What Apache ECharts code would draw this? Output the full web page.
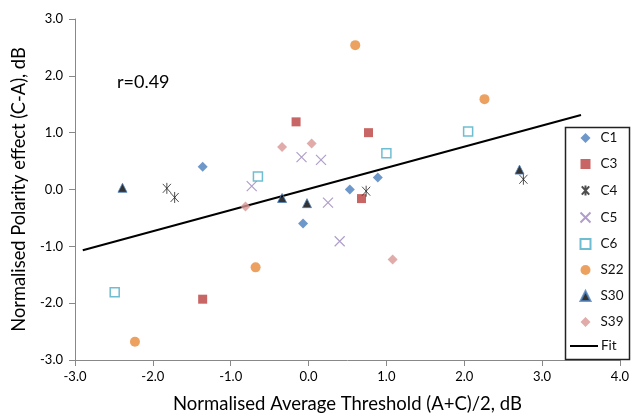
<!DOCTYPE html>
<html>
<head>
<meta charset="utf-8">
<script src="https://cdn.jsdelivr.net/npm/echarts@6/dist/echarts.min.js"></script>
<style>
html,body{margin:0;padding:0;background:#fff;}
#chart{width:632px;height:419px;}
</style>
</head>
<body>
<div id="chart"></div>
<script>
// Data: [x, y]
var C1  = [[-1.36, 0.40], [-0.07, -0.60], [0.53, 0.00], [0.89, 0.21]];
var C3  = [[-1.36, -1.93], [-0.16, 1.19], [0.68, -0.16], [0.77, 1.00]];
var C4  = [[-1.82, 0.02], [-1.72, -0.14], [0.74, -0.03], [2.76, 0.18]];
var C5  = [[-0.73, 0.06], [-0.09, 0.57], [0.16, 0.52], [0.25, -0.23], [0.40, -0.91]];
var C6  = [[-2.49, -1.81], [-0.65, 0.23], [1.00, 0.64], [2.05, 1.02]];
var S22 = [[-2.23, -2.68], [-0.68, -1.37], [0.60, 2.54], [2.26, 1.59]];
var S30 = [[-2.39, 0.03], [-0.34, -0.15], [-0.02, -0.24], [2.71, 0.35]];
var S39 = [[-0.81, -0.30], [-0.34, 0.75], [0.04, 0.81], [1.08, -1.23]];
var FIT = [[-2.90, -1.07], [3.50, 1.31]];
var xTicks = [-3, 4, 1];
var yTicks = [-3, 3, 1];
var xTitle = 'Normalised Average Threshold (A+C)/2, dB';
var yTitle = 'Normalised Polarity effect (C-A), dB';
var rText = 'r=0.49';
var markerNames = ['C1', 'C3', 'C4', 'C5', 'C6', 'S22', 'S30', 'S39'];
var fitName = 'Fit';

var FONT = 'Lato, "Open Sans", sans-serif';
var chart = echarts.init(document.getElementById('chart'), null, {renderer: 'canvas'});

var asterisk = 'path://M-1,-1.1L1,1.1M-1,1.1L1,-1.1M0,-1.35L0,1.35';
var cross = 'path://M0,0L10,10M0,10L10,0';

function sc(name, data, symbol, size, style) {
  return {
    name: name, type: 'scatter', data: data, symbol: symbol, symbolSize: size,
    symbolKeepAspect: true,
    itemStyle: style, emphasis: {disabled: true}, z: 3
  };
}

var legendText = {fontSize: 13.5, color: '#111', fontFamily: FONT, lineHeight: 14};

var option = {
  animation: false,
  backgroundColor: '#fff',
  textStyle: {fontFamily: FONT},
  grid: {left: 75, right: 9, top: 19, bottom: 55, containLabel: false},
  xAxis: {
    type: 'value', min: xTicks[0], max: xTicks[1], interval: xTicks[2],
    name: xTitle, nameLocation: 'middle', nameGap: 35,
    nameTextStyle: {fontSize: 18.5, color: '#000', fontFamily: FONT},
    axisLine: {show: true, onZero: false, lineStyle: {color: '#888', width: 1}},
    axisTick: {show: true, length: 6, lineStyle: {color: '#888'}},
    axisLabel: {fontSize: 13, color: '#000', margin: 10, formatter: function (v) { return v.toFixed(1); }},
    splitLine: {show: false}
  },
  yAxis: {
    type: 'value', min: yTicks[0], max: yTicks[1], interval: yTicks[2],
    name: yTitle, nameLocation: 'middle', nameGap: 47,
    nameTextStyle: {fontSize: 18.3, color: '#000', fontFamily: FONT},
    axisLine: {show: true, onZero: false, lineStyle: {color: '#888', width: 1}},
    axisTick: {show: true, length: 6, lineStyle: {color: '#888'}},
    axisLabel: {fontSize: 13, color: '#000', margin: 12, formatter: function (v) { return v.toFixed(1); }},
    splitLine: {show: false}
  },
  legend: [{
    orient: 'vertical', left: 578, top: 131, padding: 0,
    itemWidth: 10, itemHeight: 10, itemGap: 12,
    textStyle: Object.assign({padding: [0, 0, 0, 5]}, legendText),
    data: markerNames
  }, {
    orient: 'vertical', left: 570, top: 339, padding: 0,
    itemWidth: 28, itemHeight: 2, itemGap: 12,
    textStyle: Object.assign({padding: [0, 0, 0, -2]}, legendText),
    data: [{name: fitName, icon: 'rect'}]
  }],
  graphic: [{
    type: 'text', left: 117, top: 73,
    style: {text: rText, fontSize: 18, fill: '#000', fontFamily: FONT}
  }, {
    type: 'rect', left: 563, top: 125, z: 10,
    shape: {width: 64, height: 232},
    style: {fill: 'none', stroke: '#222', lineWidth: 1.5}
  }],
  series: [
    sc('C1', C1, 'diamond', 10, {color: '#4a7ebb'}),
    sc('C3', C3, 'rect', 9, {color: '#b9403d'}),
    sc('C4', C4, asterisk, 11, {color: 'none', borderColor: '#222', borderWidth: 1}),
    sc('C5', C5, cross, 10, {color: 'none', borderColor: '#9b86bd', borderWidth: 1.2}),
    sc('C6', C6, 'rect', 9, {color: '#fff', borderColor: '#4bacc6', borderWidth: 1.5}),
    sc('S22', S22, 'circle', 10, {color: '#e8893a'}),
    sc('S30', S30, 'triangle', 9, {color: '#000', borderColor: '#4f81bd', borderWidth: 1}),
    sc('S39', S39, 'diamond', 10, {color: '#d99694'}),
    {
      name: fitName, type: 'line', data: FIT, symbol: 'none', showSymbol: false,
      lineStyle: {color: '#000', width: 2}, itemStyle: {color: '#000'},
      emphasis: {disabled: true}, z: 2
    }
  ]
};
chart.setOption(option);
</script>
</body>
</html>
